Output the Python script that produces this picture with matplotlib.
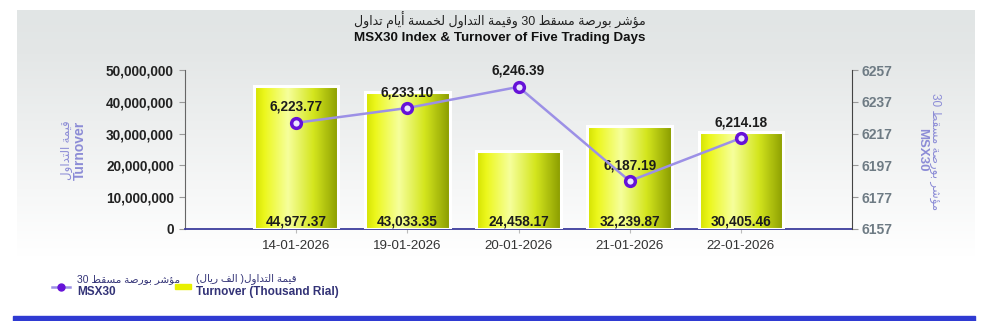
import re
import numpy as np
import matplotlib
matplotlib.use('Agg')
import matplotlib.pyplot as plt
from matplotlib.colors import LinearSegmentedColormap
from matplotlib.lines import Line2D
from matplotlib.patches import Rectangle

plt.rcParams['font.family'] = ['Liberation Sans', 'DejaVu Sans']

# data
dates = ['14-01-2026', '19-01-2026', '20-01-2026', '21-01-2026', '22-01-2026']
turnover = [44977.37, 43033.35, 24458.17, 32239.87, 30405.46]  # thousand rial
msx30 = [6223.77, 6233.10, 6246.39, 6187.19, 6214.18]
left_ticks = [0, 10000000, 20000000, 30000000, 40000000, 50000000]
right_ticks = [6157, 6177, 6197, 6217, 6237, 6257]

title_ar = 'مؤشر بورصة مسقط 30 وقيمة التداول لخمسة أيام تداول'
title_en = 'MSX30 Index & Turnover of Five Trading Days'
turn_ar = 'قيمة التداول'
msx_ar = 'مؤشر بورصة مسقط 30'
turn_leg_ar = 'قيمة التداول( الف ريال)'

# minimal arabic shaping (no raqm in matplotlib)
FORMS = {
    'ا': (0xFE8D, 0xFE8E, None, None),
    'أ': (0xFE83, 0xFE84, None, None),
    'ب': (0xFE8F, 0xFE90, 0xFE91, 0xFE92),
    'ة': (0xFE93, 0xFE94, None, None),
    'ت': (0xFE95, 0xFE96, 0xFE97, 0xFE98),
    'خ': (0xFEA5, 0xFEA6, 0xFEA7, 0xFEA8),
    'د': (0xFEA9, 0xFEAA, None, None),
    'ر': (0xFEAD, 0xFEAE, None, None),
    'س': (0xFEB1, 0xFEB2, 0xFEB3, 0xFEB4),
    'ش': (0xFEB5, 0xFEB6, 0xFEB7, 0xFEB8),
    'ص': (0xFEB9, 0xFEBA, 0xFEBB, 0xFEBC),
    'ط': (0xFEC1, 0xFEC2, 0xFEC3, 0xFEC4),
    'ف': (0xFED1, 0xFED2, 0xFED3, 0xFED4),
    'ق': (0xFED5, 0xFED6, 0xFED7, 0xFED8),
    'ل': (0xFEDD, 0xFEDE, 0xFEDF, 0xFEE0),
    'م': (0xFEE1, 0xFEE2, 0xFEE3, 0xFEE4),
    'ن': (0xFEE5, 0xFEE6, 0xFEE7, 0xFEE8),
    'و': (0xFEED, 0xFEEE, None, None),
    'ؤ': (0xFE85, 0xFE86, None, None),
    'ي': (0xFEF1, 0xFEF2, 0xFEF3, 0xFEF4),
}


def shape(s):
    out = []
    for i, c in enumerate(s):
        if c not in FORMS:
            out.append(c)
            continue
        prev = s[i - 1] if i > 0 else ''
        nxt = s[i + 1] if i + 1 < len(s) else ''
        f = FORMS[c]
        jp = prev in FORMS and FORMS[prev][2] is not None
        jn = nxt in FORMS and f[2] is not None
        if jp and jn:
            code = f[3]
        elif jp:
            code = f[1]
        elif jn:
            code = f[2]
        else:
            code = f[0]
        out.append(chr(code))
    return ''.join(out)


def ar(s):
    parts = re.findall(r'[0-9A-Za-z.,]+|.', shape(s))[::-1]
    swap = {'(': ')', ')': '('}
    return ''.join(swap.get(p, p) for p in parts)


fig = plt.figure(figsize=(10, 3.21), dpi=100)
W, H = 1000, 321


def fx(px):
    return px / W


def fy(py):
    return 1 - py / H


# background panel with vertical gradient
bg = fig.add_axes([17 / W, 1 - 300 / H, 958 / W, 290 / H], zorder=0)
grad = np.linspace(0, 1, 256).reshape(-1, 1)
bg_cmap = LinearSegmentedColormap.from_list('bg', [(0, '#e1e5e5'), (0.15, '#e4e7e7'), (0.85, '#ffffff'), (1, '#ffffff')])
bg.imshow(grad, aspect='auto', cmap=bg_cmap, extent=[0, 1, 0, 1], origin='upper')
bg.axis('off')

# blue strip at the bottom
fig.patches.append(Rectangle((13 / W, 0), 962 / W, 5 / H, transform=fig.transFigure,
                             color='#2f3ad2', zorder=1))

ax = fig.add_axes([185 / W, (H - 229) / H, 667 / W, 159 / H], zorder=2)
ax.set_facecolor('none')
x = np.arange(len(dates))

bar_cmap = LinearSegmentedColormap.from_list('bar', [(0, '#d2e000'), (0.12, '#ecf71c'), (0.4, '#f6ff9c'),
                                                     (0.7, '#d4e61e'), (1, '#8a9c00')])
heights = [t * 1000 for t in turnover]
bars = ax.bar(x, heights, width=0.76, color='none', edgecolor='none', zorder=3)
hgrad = np.linspace(0, 1, 256).reshape(1, -1)
for b in bars:
    im = ax.imshow(hgrad, aspect='auto', cmap=bar_cmap, zorder=2,
                   extent=[b.get_x(), b.get_x() + b.get_width(), 0, b.get_height()])
    im.set_clip_path(b)
    ax.add_patch(Rectangle((b.get_x(), 0), b.get_width(), b.get_height(), fill=False,
                           edgecolor='white', linewidth=2.2, zorder=3))

for xi, t in zip(x, turnover):
    ax.annotate(f'{t:,.2f}', (xi, 0), xytext=(0, 5.5), textcoords='offset points',
                ha='center', va='center', fontsize=9.8, fontweight='bold', color='#1c1c1c', zorder=6)

ax.set_xlim(-1, 5)
ax.set_ylim(0, 50000000)
ax.set_yticks(left_ticks)
ax.set_yticklabels([f'{v:,}' for v in left_ticks], fontsize=9.8, fontweight='bold', color='#222222')
ax.set_xticks(x)
ax.set_xticklabels(dates, fontsize=9.6, color='#333333')
ax.tick_params(axis='y', length=4, color='#999999', pad=4)
ax.tick_params(axis='x', length=3, color='#bbbbbb', pad=5)
ax.spines['top'].set_visible(False)
ax.spines['right'].set_visible(False)
ax.spines['left'].set_color('#666666')
ax.spines['bottom'].set_color('#3c3c9c')
ax.spines['bottom'].set_linewidth(1.3)

ax2 = ax.twinx()
ax2.set_zorder(3)
ax2.plot(x, msx30, color='#9c90e6', linewidth=1.8, marker='o', markersize=7,
         markerfacecolor='#ece6ff', markeredgecolor='#6612d8', markeredgewidth=2.5, zorder=5)
for xi, v in zip(x, msx30):
    ax2.annotate(f'{v:,.2f}', (xi, v), xytext=(0, 11.5), textcoords='offset points',
                 ha='center', va='center', fontsize=9.8, fontweight='bold', color='#1c1c1c')
ax2.set_ylim(6157, 6257)
ax2.set_yticks(right_ticks)
ax2.set_yticklabels([str(v) for v in right_ticks], fontsize=10, fontweight='bold', color='#6e7b84')
ax2.tick_params(axis='y', length=4, color='#999999', pad=3)
for s in ['top', 'left', 'bottom']:
    ax2.spines[s].set_visible(False)
ax2.spines['right'].set_color('#444444')

# axis titles
lab_col = '#8c8cd6'
fig.text(fx(67), fy(150), ar(turn_ar), rotation=90, ha='center', va='center', fontsize=8.5, color=lab_col)
fig.text(fx(80), fy(150), 'Turnover', rotation=90, ha='center', va='center', fontsize=10,
         fontweight='bold', color=lab_col)
fig.text(fx(935), fy(152), ar(msx_ar), rotation=270, ha='center', va='center', fontsize=8.5, color=lab_col)
fig.text(fx(922), fy(150), 'MSX30', rotation=270, ha='center', va='center', fontsize=9.5,
         fontweight='bold', color=lab_col)

# title
fig.text(0.5, fy(20), ar(title_ar), ha='center', va='center', fontsize=9, color='#222222')
fig.text(0.5, fy(38), title_en, ha='center', va='center', fontsize=9.6, fontweight='bold', color='#111111')

# legend
fig.lines.append(Line2D([fx(52), fx(70)], [fy(287), fy(287)], transform=fig.transFigure, color='#9c90e6',
                        linewidth=1.8, zorder=4))
fig.lines.append(Line2D([fx(61)], [fy(287)], transform=fig.transFigure, marker='o', markersize=5,
                        markerfacecolor='#6612d8', markeredgecolor='#6612d8', linestyle='none', zorder=5))
fig.text(fx(77), fy(279), ar(msx_ar), ha='left', va='center', fontsize=7.5, color='#333377')
fig.text(fx(77), fy(292), 'MSX30', ha='left', va='center', fontsize=8.5, fontweight='bold', color='#333377')
fig.patches.append(Rectangle((fx(175), fy(289)), 16 / W, 5 / H, transform=fig.transFigure,
                             color='#e8f000', zorder=4))
fig.text(fx(196), fy(279), ar(turn_leg_ar), ha='left', va='center', fontsize=7.5, color='#333377')
fig.text(fx(196), fy(292), 'Turnover (Thousand Rial)', ha='left', va='center', fontsize=8.5,
         fontweight='bold', color='#333377')

fig.savefig('out.png', dpi=100)
